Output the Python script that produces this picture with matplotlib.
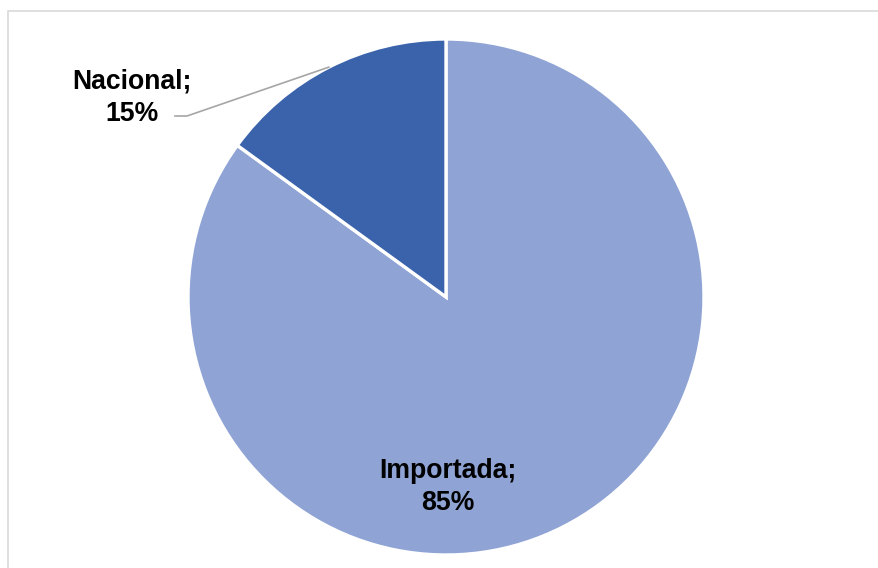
import matplotlib
matplotlib.use("Agg")
import matplotlib.pyplot as plt
import numpy as np
from matplotlib.patches import Rectangle

labels = ["Importada", "Nacional"]
values = [85, 15]
colors = ["#8FA4D5", "#3B63AC"]

W, H = 879, 568
fig = plt.figure(figsize=(W / 100, H / 100), dpi=100)
plt.rcParams['font.family'] = ['Liberation Sans', 'DejaVu Sans']

# chart frame (cut by the image edges on the right and bottom)
fig.patches.append(Rectangle((8 / W, -0.05), 1.1, 1 - 11 / H + 0.05,
                             transform=fig.transFigure, fill=False,
                             edgecolor="#D9D9D9", linewidth=1.2))

cx, cy, R = 446, 297, 258
ax = fig.add_axes([0, 0, 1, 1])
ax.pie(values, colors=colors, startangle=90, counterclock=False, radius=1,
       wedgeprops=dict(edgecolor="white", linewidth=2.4))
ax.set_xlim(-cx / R, (W - cx) / R)
ax.set_ylim(-(H - cy) / R, cy / R)
ax.set_aspect("equal")
ax.axis("off")

def p(x, y):
    return ((x - cx) / R, (cy - y) / R)

# Importada label
ax.text(*p(448, 487), f"{labels[0]};\n{values[0]}%", ha="center", va="center",
        fontsize=19.2, fontweight="bold", color="black", linespacing=1.33)

# Nacional label with leader line
ax.text(*p(132, 98), f"{labels[1]};\n{values[1]}%", ha="center", va="center",
        fontsize=19.2, fontweight="bold", color="black", linespacing=1.33)
mid = np.deg2rad(90 + 360 * values[1] / sum(values) / 2)
ex, ey = np.cos(mid), np.sin(mid)
x0, y0 = p(175, 116)
x1, y1 = p(187, 116)
ax.plot([x0, x1, ex], [y0, y1, ey], color="#A6A6A6", linewidth=1.2)

fig.savefig("out.png", dpi=100)
